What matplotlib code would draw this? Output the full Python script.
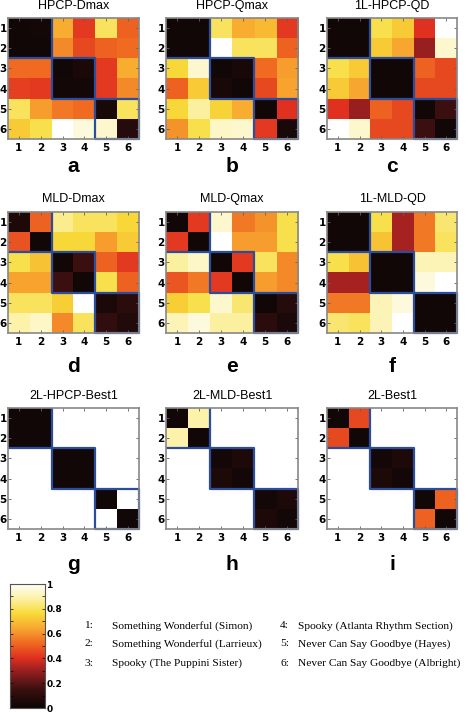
import matplotlib
matplotlib.use("Agg")
import matplotlib.pyplot as plt
import numpy as np
from matplotlib.colors import LinearSegmentedColormap

W, H = 473, 712

titles = ["HPCP-Dmax", "HPCP-Qmax", "1L-HPCP-QD",
          "MLD-Dmax", "MLD-Qmax", "1L-MLD-QD",
          "2L-HPCP-Best1", "2L-MLD-Best1", "2L-Best1"]
letters = ["a", "b", "c", "d", "e", "f", "g", "h", "i"]
tick_labels = ["1", "2", "3", "4", "5", "6"]

hpcp_dmax = [[0.02, 0.03, 0.65, 0.42, 0.80, 0.50],
             [0.02, 0.02, 0.58, 0.45, 0.50, 0.52],
             [0.52, 0.52, 0.02, 0.05, 0.42, 0.65],
             [0.43, 0.42, 0.03, 0.03, 0.42, 0.58],
             [0.80, 0.62, 0.55, 0.52, 0.04, 0.80],
             [0.72, 0.78, 1.00, 0.95, 0.93, 0.08]]
hpcp_qmax = [[0.02, 0.02, 0.80, 0.65, 0.68, 0.42],
             [0.02, 0.02, 1.00, 0.80, 0.80, 0.50],
             [0.75, 0.93, 0.02, 0.04, 0.52, 0.62],
             [0.50, 0.72, 0.04, 0.02, 0.45, 0.63],
             [0.75, 0.87, 0.74, 0.65, 0.02, 0.40],
             [0.60, 0.78, 0.92, 0.93, 0.42, 0.04]]
hpcp_1l_qd = [[0.02, 0.02, 0.78, 0.72, 0.40, 1.00],
              [0.02, 0.02, 0.72, 0.64, 0.30, 0.93],
              [0.78, 0.72, 0.02, 0.02, 0.50, 0.45],
              [0.72, 0.64, 0.02, 0.02, 0.45, 0.45],
              [0.40, 0.30, 0.50, 0.45, 0.02, 0.15],
              [1.00, 0.93, 0.45, 0.45, 0.15, 0.02]]
mld_dmax = [[0.06, 0.50, 0.85, 0.80, 0.80, 0.75],
            [0.47, 0.02, 0.75, 0.75, 0.62, 0.72],
            [0.78, 0.70, 0.02, 0.15, 0.50, 0.42],
            [0.63, 0.63, 0.15, 0.02, 0.78, 0.50],
            [0.80, 0.80, 0.73, 1.00, 0.05, 0.10],
            [0.88, 0.92, 0.58, 0.80, 0.12, 0.07]]
mld_qmax = [[0.02, 0.42, 0.93, 0.55, 0.60, 0.78],
            [0.42, 0.02, 1.00, 0.62, 0.62, 0.78],
            [0.87, 0.92, 0.02, 0.42, 0.80, 0.58],
            [0.48, 0.55, 0.42, 0.02, 0.62, 0.58],
            [0.73, 0.78, 0.93, 0.82, 0.02, 0.08],
            [0.90, 0.95, 0.87, 0.87, 0.10, 0.05]]
mld_1l_qd = [[0.02, 0.02, 0.78, 0.32, 0.55, 0.82],
             [0.02, 0.02, 0.70, 0.32, 0.55, 0.80],
             [0.78, 0.70, 0.02, 0.02, 0.90, 0.90],
             [0.32, 0.32, 0.02, 0.02, 0.95, 1.00],
             [0.55, 0.55, 0.90, 0.95, 0.02, 0.02],
             [0.82, 0.80, 0.90, 1.00, 0.02, 0.02]]
hpcp_2l_best1 = [[0.02, 0.02, 1.00, 1.00, 1.00, 1.00],
                 [0.02, 0.02, 1.00, 1.00, 1.00, 1.00],
                 [1.00, 1.00, 0.02, 0.02, 1.00, 1.00],
                 [1.00, 1.00, 0.02, 0.02, 1.00, 1.00],
                 [1.00, 1.00, 1.00, 1.00, 0.02, 1.00],
                 [1.00, 1.00, 1.00, 1.00, 1.00, 0.02]]
mld_2l_best1 = [[0.02, 0.88, 1.00, 1.00, 1.00, 1.00],
                [0.88, 0.02, 1.00, 1.00, 1.00, 1.00],
                [1.00, 1.00, 0.03, 0.06, 1.00, 1.00],
                [1.00, 1.00, 0.06, 0.03, 1.00, 1.00],
                [1.00, 1.00, 1.00, 1.00, 0.03, 0.06],
                [1.00, 1.00, 1.00, 1.00, 0.06, 0.03]]
best1_2l = [[0.02, 0.45, 1.00, 1.00, 1.00, 1.00],
            [0.45, 0.02, 1.00, 1.00, 1.00, 1.00],
            [1.00, 1.00, 0.03, 0.06, 1.00, 1.00],
            [1.00, 1.00, 0.06, 0.03, 1.00, 1.00],
            [1.00, 1.00, 1.00, 1.00, 0.02, 0.50],
            [1.00, 1.00, 1.00, 1.00, 0.50, 0.02]]

matrices = [hpcp_dmax, hpcp_qmax, hpcp_1l_qd,
            mld_dmax, mld_qmax, mld_1l_qd,
            hpcp_2l_best1, mld_2l_best1, best1_2l]

songs_left = ["Something Wonderful (Simon)",
              "Something Wonderful (Larrieux)",
              "Spooky (The Puppini Sister)"]
songs_right = ["Spooky (Atlanta Rhythm Section)",
               "Never Can Say Goodbye (Hayes)",
               "Never Can Say Goodbye (Albright)"]

cmap = LinearSegmentedColormap.from_list("hotish", [
    (0.00, "#0c0606"), (0.15, "#3c1010"), (0.30, "#9a2020"),
    (0.40, "#e03020"), (0.52, "#f06a22"), (0.64, "#f8a830"),
    (0.76, "#f8dc3a"), (0.88, "#fcf2a8"), (1.00, "#ffffff")])

fig = plt.figure(figsize=(W / 100, H / 100), dpi=100)

def rect(l, t, r, b):
    return [l / W, 1 - b / H, (r - l) / W, (b - t) / H]

cols = [(8, 139), (166, 298), (327, 457)]
rows = [(18, 139), (212, 333), (408, 529)]
title_y = [6, 199, 396]
letter_y = [167, 366, 564]
blue = "#2c4c9c"

for k, m in enumerate(matrices):
    r, c = divmod(k, 3)
    l, rr = cols[c]
    t, b = rows[r]
    ax = fig.add_axes(rect(l, t, rr, b))
    ax.imshow(np.array(m), cmap=cmap, vmin=0, vmax=1, aspect="auto",
              interpolation="nearest")
    ax.set_xticks(range(6))
    ax.set_yticks(range(6))
    ax.set_xticklabels(tick_labels, fontsize=7.5, fontweight="bold")
    ax.set_yticklabels(tick_labels, fontsize=7.5, fontweight="bold")
    ax.tick_params(direction="in", length=2, width=0.6, top=True, right=True,
                   colors="#606060", labelcolor="black")
    ax.tick_params(axis="y", pad=1)
    ax.tick_params(axis="x", pad=3)
    for s in ax.spines.values():
        s.set_color("#888888")
        s.set_linewidth(1.2)
    # group boundaries
    ax.plot([-0.5, 1.5, 1.5], [1.5, 1.5, -0.5], color=blue, lw=1.6)
    for g0 in (1.5, 3.5):
        ax.plot([g0, g0 + 2, g0 + 2, g0, g0], [g0, g0, g0 + 2, g0 + 2, g0],
                color=blue, lw=1.6, clip_on=False)
    ax.set_xlim(-0.5, 5.5)
    ax.set_ylim(5.5, -0.5)
    cx = (l + rr) / 2 / W
    fig.text(cx, 1 - title_y[r] / H, titles[k], ha="center", va="center",
             fontsize=9, family="Liberation Sans")
    fig.text(cx, 1 - letter_y[r] / H, letters[k], ha="center", va="center",
             fontsize=15, fontweight="bold", family="Liberation Sans")

# colorbar
cax = fig.add_axes(rect(10, 584, 45, 708))
grad = np.linspace(0, 1, 256).reshape(-1, 1)
cax.imshow(grad, cmap=cmap, aspect="auto", origin="lower",
           extent=[0, 1, 0, 1], vmin=0, vmax=1)
cax.set_xticks([])
cax.yaxis.tick_right()
cax.set_yticks([0, 0.2, 0.4, 0.6, 0.8, 1])
cax.set_yticklabels(["0", "0.2", "0.4", "0.6", "0.8", "1"], fontsize=6.5,
                    fontweight="bold")
cax.set_yticks(np.linspace(0, 1, 11), minor=True)
cax.tick_params(axis="y", which="both", direction="in", length=2, pad=1,
                left=True, right=True, width=0.5)
for s in cax.spines.values():
    s.set_color("#555555")
    s.set_linewidth(0.8)

# legend of songs
ys = [626, 644, 663]
for i in range(3):
    fig.text(84 / W, 1 - ys[i] / H, f"{i + 1}:", ha="left", va="center",
             fontsize=8.2, family="Liberation Serif")
    fig.text(112 / W, 1 - ys[i] / H, songs_left[i], ha="left", va="center",
             fontsize=8.2, family="Liberation Serif")
    fig.text(280 / W, 1 - ys[i] / H, f"{i + 4}:", ha="left", va="center",
             fontsize=8.2, family="Liberation Serif")
    fig.text(298 / W, 1 - ys[i] / H, songs_right[i], ha="left", va="center",
             fontsize=8.2, family="Liberation Serif")

fig.savefig("out.png", dpi=100)
